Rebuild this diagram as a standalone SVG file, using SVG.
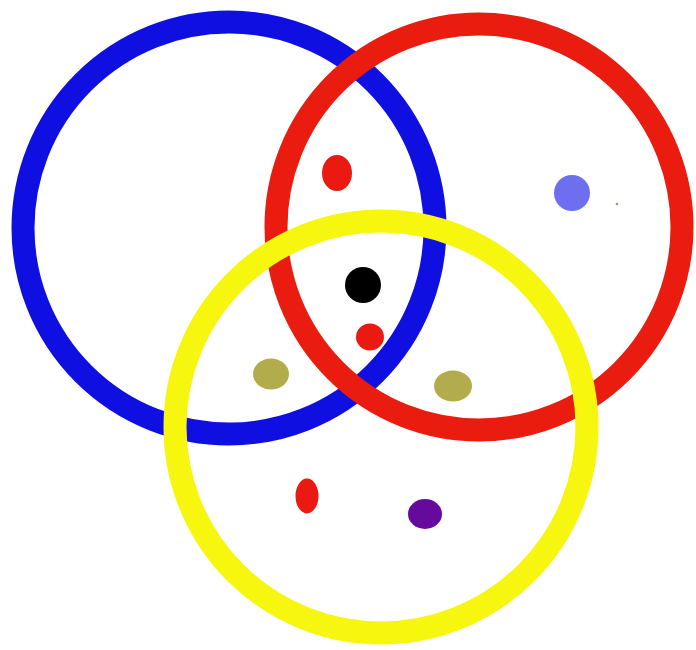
<svg xmlns="http://www.w3.org/2000/svg" width="696" height="650" viewBox="0 0 696 650">
<style>
.ring{fill:none;stroke-width:23}
</style>
<rect width="696" height="650" fill="#ffffff"/>
<g id="rings">
<circle id="blue-ring" class="ring" cx="229" cy="228" r="206" stroke="#0f0fe2"/>
<circle id="red-ring" class="ring" cx="479" cy="227" r="203" stroke="#ea1b0f"/>
<circle id="yellow-ring" class="ring" cx="381" cy="427" r="206" stroke="#f6f60e"/>
</g>
<g id="dots">
<ellipse cx="337" cy="173" rx="15" ry="18" fill="#ea1a12"/>
<circle cx="363" cy="285" r="18" fill="#000000"/>
<ellipse cx="370" cy="337" rx="14" ry="13.5" fill="#ea1a12"/>
<ellipse cx="271" cy="374" rx="18" ry="15.5" fill="#b3ac4c"/>
<ellipse cx="453" cy="386" rx="19" ry="15.5" fill="#b3ac4c"/>
<circle cx="572" cy="193" r="18" fill="#6e6ef0"/>
<circle cx="617" cy="204" r="1.3" fill="#9a9a80"/>
<ellipse cx="307" cy="496" rx="11.5" ry="17.5" fill="#ea1a12"/>
<ellipse cx="425" cy="514" rx="17" ry="15" fill="#650a9c"/>
</g>
</svg>
